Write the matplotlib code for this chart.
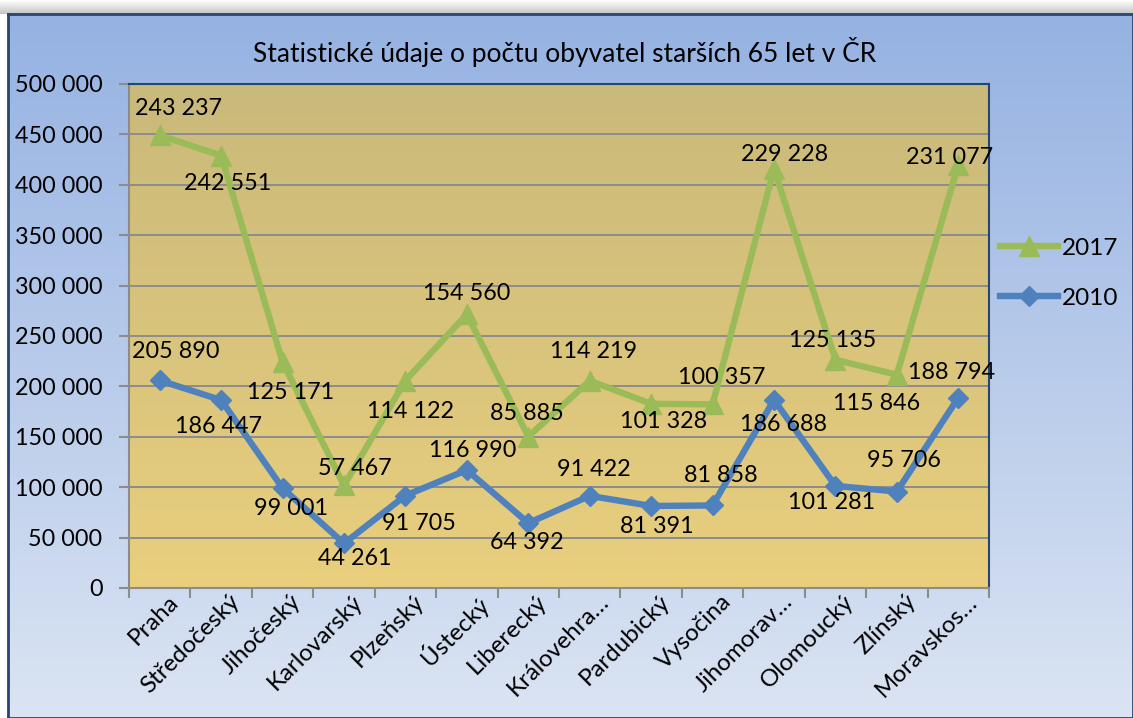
import matplotlib
matplotlib.use("Agg")
import matplotlib.pyplot as plt
import numpy as np
from matplotlib.ticker import FuncFormatter, FixedLocator
from matplotlib.colors import LinearSegmentedColormap
import matplotlib.transforms as mtransforms

plt.rcParams['font.family'] = ['Lato', 'DejaVu Sans']

regions = ["Praha", "Středočeský", "Jihočeský", "Karlovarský", "Plzeňský", "Ústecký",
           "Liberecký", "Královehra…", "Pardubický", "Vysočina", "Jihomorav…",
           "Olomoucký", "Zlínský", "Moravskos…"]
values_2010 = [205890, 186447, 99001, 44261, 91705, 116990, 64392, 91422, 81391,
               81858, 186688, 101281, 95706, 188794]
values_2017 = [243237, 242551, 125171, 57467, 114122, 154560, 85885, 114219, 101328,
               100357, 229228, 125135, 115846, 231077]
y_ticks = [0, 50000, 100000, 150000, 200000, 250000, 300000, 350000, 400000, 450000, 500000]
title = "Statistické údaje o počtu obyvatel starších 65 let v ČR"

# label offsets in pixels (dx right, dy up) -- styling only
off_2017 = [(19, 27), (6, -28), (8, -30), (11, 17), (5, -31), (0, 21), (-1, 23), (4, 29),
            (12, -18), (9, 27), (11, 14), (-3, 19), (-20, -29), (-9, 7)]
off_2010 = [(16, 29), (-3, -26), (8, -20), (11, -15), (14, -28), (6, 20), (-1, -19), (4, 26),
            (6, -21), (8, 30), (9, -25), (-4, -17), (7, 31), (-7, 25)]

W, H = 1133, 718
DPI = 100
fig = plt.figure(figsize=(W / DPI, H / DPI), dpi=DPI)
fig.patch.set_facecolor('white')

# shadow strip at top
sh = fig.add_axes([0, 1 - 14 / H, 1, 14 / H], zorder=-20)
sh.imshow(np.linspace(0, 1, 50).reshape(-1, 1), aspect='auto',
          cmap=LinearSegmentedColormap.from_list('s', ['#ffffff', '#c4c4c4']),
          extent=[0, 1, 0, 1])
sh.axis('off')

# chart background gradient
bg = fig.add_axes([8 / W, 0, 1 - 8 / W, 1 - 14 / H], zorder=-10)
bg.imshow(np.linspace(0, 1, 256).reshape(-1, 1), aspect='auto',
          cmap=LinearSegmentedColormap.from_list('b', ['#95b2e2', '#dbe4f3']),
          extent=[0, 1, 0, 1])
bg.set_xticks([]); bg.set_yticks([])
for s in bg.spines.values():
    s.set_color('#27466f'); s.set_linewidth(2)

ax = fig.add_axes([129 / W, 1 - 588 / H, 860 / W, 504 / H])
ax.set_facecolor('none')
n = len(regions)
x = np.arange(n)
ax.set_xlim(-0.5, n - 0.5)
ax.set_ylim(0, 500000)
ax.imshow(np.linspace(0, 1, 256).reshape(-1, 1), aspect='auto',
          cmap=LinearSegmentedColormap.from_list('p', ['#c9b97a', '#e9cf7e']),
          extent=[-0.5, n - 0.5, 0, 500000], zorder=0)

for yv in y_ticks[1:-1]:
    ax.axhline(yv, color='#8c8c8c', lw=1.4, zorder=1)

stack_2017 = [a + b for a, b in zip(values_2010, values_2017)]
ax.plot(x, stack_2017, color='#9bbb59', lw=4.6, marker='^', ms=14.5, zorder=3, label='2017',
        solid_joinstyle='round')
ax.plot(x, values_2010, color='#4f81bd', lw=4.6, marker='D', ms=10, zorder=3, label='2010',
        solid_joinstyle='round')

def fmt(v):
    return f"{int(v):,}".replace(",", " ")

px2pt = 72 / DPI
for i in range(n):
    dx, dy = off_2017[i]
    ax.annotate(fmt(values_2017[i]), (x[i], stack_2017[i]), xytext=(dx * px2pt, dy * px2pt),
                textcoords='offset points', ha='center', va='center', fontsize=16.8, zorder=5)
    dx, dy = off_2010[i]
    ax.annotate(fmt(values_2010[i]), (x[i], values_2010[i]), xytext=(dx * px2pt, dy * px2pt),
                textcoords='offset points', ha='center', va='center', fontsize=16.8, zorder=5)

ax.yaxis.set_major_locator(FixedLocator(y_ticks))
ax.yaxis.set_major_formatter(FuncFormatter(lambda v, p: fmt(v)))
ax.tick_params(axis='y', labelsize=16.8, length=7, width=1.5, color='#8c8c8c', pad=12)

ax.set_xticks(np.arange(-0.5, n, 1.0))
ax.set_xticklabels([])
ax.tick_params(axis='x', which='major', length=7, width=1.5, color='#8c8c8c')
ax.set_xticks(x, minor=True)
ax.set_xticklabels(regions, minor=True, rotation=45, ha='right', va='top',
                   rotation_mode='anchor', fontsize=17.3)
ax.tick_params(axis='x', which='minor', length=0, pad=2)
for lbl in ax.get_xticklabels(minor=True):
    lbl.set_transform(lbl.get_transform() + mtransforms.ScaledTranslation(8 / DPI, 0, fig.dpi_scale_trans))

ax.spines['left'].set_color('#8c8c8c'); ax.spines['left'].set_linewidth(1.5)
ax.spines['bottom'].set_color('#8c8c8c'); ax.spines['bottom'].set_linewidth(1.5)
ax.spines['top'].set_color('#27466f'); ax.spines['top'].set_linewidth(1.5)
ax.spines['right'].set_color('#27466f'); ax.spines['right'].set_linewidth(1.5)
for s in ax.spines.values():
    s.set_zorder(2)

fig.text(565 / W, 1 - 52 / H, title, ha='center', va='center', fontsize=19)

leg = fig.legend(loc='upper left', bbox_to_anchor=(990 / W, 1 - 228 / H), frameon=False,
                 fontsize=17.5, handlelength=2.4, labelspacing=1.2, handletextpad=0.15,
                 borderaxespad=0)

fig.savefig('out.png', dpi=DPI)
